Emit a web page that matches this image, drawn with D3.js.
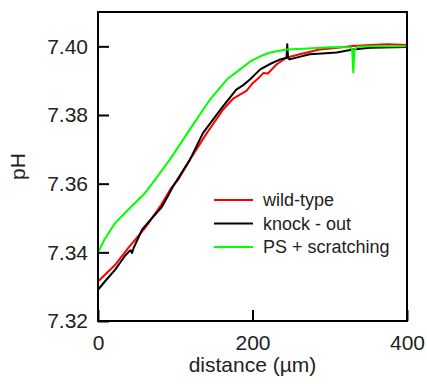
<!DOCTYPE html>
<html>
<head>
<meta charset="utf-8">
<script src="https://cdn.jsdelivr.net/npm/d3@7"></script>
<style>
  body { margin: 0; background: #fff; }
  svg text { font-family: "Liberation Sans", Arial, sans-serif; fill: #222; }
</style>
</head>
<body>
<div class="mainView"></div>
<script>
// values
let xTicks = [0, 200, 400];
let yTicks = [7.32, 7.34, 7.36, 7.38, 7.40];

let wildType = [
    [0, 7.3315], [22, 7.3363], [39, 7.3412], [61, 7.3471], [82, 7.3539],
    [95, 7.3588], [104, 7.3612], [119, 7.3670], [141, 7.3748], [162, 7.3816],
    [175, 7.3848], [192, 7.3870], [201, 7.3894], [208, 7.3908], [214, 7.3922],
    [220, 7.3921], [225, 7.3933], [231, 7.3947], [244, 7.3967], [261, 7.3977],
    [287, 7.3991], [310, 7.3996], [330, 7.4001], [352, 7.4004], [374, 7.4006],
    [400, 7.4004]
];

let knockOut = [
    [0, 7.3291], [10, 7.3318], [22, 7.3349], [35, 7.3390], [40, 7.3402],
    [42, 7.3406], [44, 7.3398], [46, 7.3412], [57, 7.3466], [70, 7.3500],
    [82, 7.3530], [90, 7.3562], [97, 7.3592], [119, 7.3670], [136, 7.3748],
    [162, 7.3826], [179, 7.3874], [188, 7.3887], [197, 7.3904], [210, 7.3933],
    [224, 7.3950], [236, 7.3962], [244, 7.3967], [245, 7.4006], [246, 7.3966],
    [248, 7.3962], [262, 7.3970], [274, 7.3977], [290, 7.3979], [309, 7.3982],
    [330, 7.3991], [352, 7.3996], [400, 7.3998]
];

let psScratching = [
    [0, 7.3399], [8, 7.3436], [22, 7.3485], [39, 7.3524], [61, 7.3573],
    [74, 7.3612], [93, 7.3670], [119, 7.3758], [145, 7.3845], [167, 7.3904],
    [184, 7.3933], [197, 7.3956], [210, 7.3971], [223, 7.3982], [244, 7.3991],
    [266, 7.3993], [300, 7.3997], [326, 7.3997], [329, 7.3991], [330.5, 7.3924],
    [332, 7.3991], [336, 7.3999], [352, 7.4000], [400, 7.4000]
];

let seriesNames = ["wild-type", "knock - out", "PS + scratching"];
let seriesColors = ["#ff0000", "#000000", "#00ff00"];

let width = 427, height = 384;
let margin = { top: 12, right: 20, bottom: 63, left: 98 };
let bodyWidth = width - margin.left - margin.right;
let bodyHeight = height - margin.top - margin.bottom;

let svg = d3.select(".mainView").append("svg")
    .attr("width", width)
    .attr("height", height);

let container = svg.append("g")
    .attr("transform", "translate(" + [margin.left, margin.top] + ")");

let xScale = d3.scaleLinear().domain([0, 400]).range([0, bodyWidth]);
let yScale = d3.scaleLinear().domain([7.32, 7.41]).range([bodyHeight, 0]);

// axes, ticks pointing inward
let axisX = d3.axisBottom(xScale).tickValues(xTicks).tickSize(-11).tickPadding(14)
    .tickFormat(d3.format("d"));
let gx = container.append("g")
    .attr("transform", "translate(0," + bodyHeight + ")")
    .call(axisX);

let axisY = d3.axisLeft(yScale).tickValues(yTicks).tickSize(-11).tickPadding(10)
    .tickFormat(d3.format(".2f"));
let gy = container.append("g").call(axisY);

[gx, gy].forEach(g => {
    g.select(".domain").remove();
    g.selectAll("line").attr("stroke", "#000").attr("stroke-width", 2);
    g.selectAll("text").style("font-size", "21px").attr("fill", "#222");
});

// data lines
let line = d3.line()
    .x(d => xScale(d[0]))
    .y(d => yScale(d[1]));

[wildType, knockOut, psScratching].forEach((s, i) => {
    container.append("path")
        .datum(s)
        .attr("d", line)
        .attr("fill", "none")
        .attr("stroke", seriesColors[i])
        .attr("stroke-width", 2)
        .attr("stroke-linejoin", "round");
});

// frame
container.append("rect")
    .attr("x", 0)
    .attr("y", 0)
    .attr("width", bodyWidth)
    .attr("height", bodyHeight)
    .attr("fill", "none")
    .attr("stroke", "#000")
    .attr("stroke-width", 2);

// axis titles
svg.append("text")
    .attr("x", margin.left + bodyWidth / 2)
    .attr("y", 372)
    .attr("text-anchor", "middle")
    .style("font-size", "21px")
    .text("distance (µm)");

svg.append("text")
    .attr("transform", "translate(25," + (margin.top + bodyHeight / 2) + ") rotate(-90)")
    .attr("text-anchor", "middle")
    .style("font-size", "21px")
    .text("pH");

// legend
let legend = svg.append("g").attr("transform", "translate(214,200)");
seriesNames.forEach((name, i) => {
    let y = i * 23.5;
    legend.append("line")
        .attr("x1", 0).attr("x2", 39)
        .attr("y1", y).attr("y2", y)
        .attr("stroke", seriesColors[i])
        .attr("stroke-width", 2);
    legend.append("text")
        .attr("x", 49)
        .attr("y", y)
        .attr("dy", "0.35em")
        .style("font-size", "18px")
        .text(name);
});
</script>
</body>
</html>
